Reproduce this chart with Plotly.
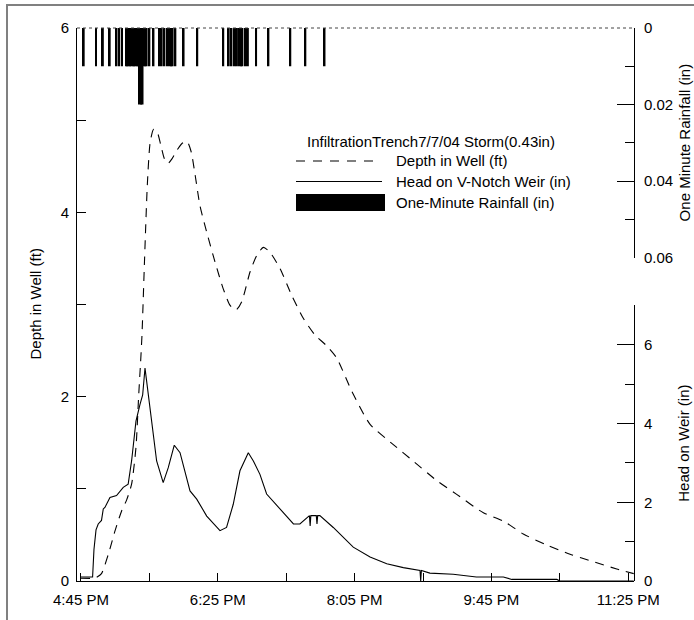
import pandas as pd
import plotly.graph_objects as go

# ---------------- data (times = minutes after 4:45 PM, 7/7/2004) ----------------
BASE = pd.Timestamp("2004-07-07 16:45")

depth_min = [0, 10, 11.5, 15, 20, 25, 29.7, 33.4, 37, 40.2, 42.2, 43.6, 44.6, 46.5, 48.5,
             50.5, 53, 55.5, 58.5, 61, 63.6, 66.5, 70, 74, 77.5, 80.5, 83.5, 87, 92, 98,
             104, 109, 113.3, 117.5, 123.5, 128.4, 133.3, 138, 145.5, 154, 162.5, 171, 179,
             186.9, 197.9, 211.3, 228.3, 242.9, 260, 274.6, 294.1, 308.7, 323.3, 340.4,
             357.5, 374.5, 391.6, 404]
depth_ft = [0.03, 0.03, 0.04, 0.08, 0.29, 0.55, 0.76, 0.88, 1.05, 1.45, 2.02, 2.38, 2.67,
            3.5, 4.3, 4.75, 4.9, 4.88, 4.72, 4.58, 4.53, 4.58, 4.67, 4.75, 4.77, 4.66, 4.4,
            4.07, 3.78, 3.46, 3.17, 2.99, 2.94, 3.03, 3.35, 3.53, 3.62, 3.57, 3.39, 3.10,
            2.85, 2.67, 2.56, 2.42, 2.06, 1.70, 1.48, 1.30, 1.09, 0.94, 0.74, 0.65, 0.51,
            0.39, 0.29, 0.21, 0.13, 0.08]

head_min = [0, 8.5, 9.5, 11, 12.6, 15, 16.3, 17.5, 21.2, 26, 30.9, 34.5, 37, 40.2, 43.1,
            45.1, 46.8, 50.4, 55.3, 60.1, 63.8, 68.2, 72.4, 79.7, 84.6, 91.9, 101.6, 106.4,
            111.3, 116.2, 122.3, 126, 130.8, 135.7, 145.5, 155.3, 160, 165.2, 167, 167.5,
            168, 172, 172.5, 173, 174.6, 184.4, 199, 211.3, 223.5, 235.6, 247.8, 248.3,
            248.8, 255, 272, 289, 308.7, 314.9, 347.8, 350, 404]
head_in = [0.10, 0.10, 0.8, 1.3, 1.45, 1.54, 1.83, 1.87, 2.12, 2.17, 2.38, 2.46, 3.05,
           4.06, 4.48, 4.73, 5.41, 4.40, 3.05, 2.50, 2.88, 3.45, 3.26, 2.29, 2.08, 1.65,
           1.28, 1.36, 1.95, 2.80, 3.26, 3.05, 2.71, 2.21, 1.83, 1.45, 1.45, 1.62, 1.66,
           1.40, 1.66, 1.66, 1.45, 1.66, 1.66, 1.36, 0.86, 0.61, 0.44, 0.34, 0.27, 0.0,
           0.27, 0.20, 0.17, 0.10, 0.10, 0.04, 0.04, 0.0, 0.0]

rain_min = [2, 11, 16, 21, 26, 28, 30, 33, 34, 35, 36, 37, 38, 39, 40, 41, 42, 43, 44, 45,
            46, 47, 48, 50, 53, 57, 59, 61, 63, 65, 66, 67, 69, 75, 85, 104, 108, 110, 112,
            114, 116, 117, 118, 120, 122, 128, 137, 153, 164, 178]
rain_in = [0.01] * len(rain_min)
for _m in (43, 44, 45):
    rain_in[rain_min.index(_m)] = 0.02

x_tick_min = [0, 50, 100, 150, 200, 250, 300, 350, 400]
x_tick_text = ["4:45 PM", "", "6:25 PM", "", "8:05 PM", "", "9:45 PM", "", "11:25 PM"]

depth_ticks = [0, 1, 2, 3, 4, 5, 6]
depth_tick_text = ["0", "", "2", "", "4", "", "6"]

legend_title = "InfiltrationTrench7/7/04 Storm(0.43in)"
name_depth = "Depth in Well (ft)"
name_head = "Head on V-Notch Weir (in)"
name_rain = "One-Minute Rainfall (in)"


def to_time(mins):
    return BASE + pd.to_timedelta(pd.Series(mins, dtype=float), unit="min")


FONT = "Liberation Sans, Arial, sans-serif"
FS = 15

fig = go.Figure()
fig.add_trace(go.Scatter(x=to_time(depth_min), y=depth_ft, mode="lines", name=name_depth,
                         line=dict(color="black", width=1.1, dash="9px,7px", shape="spline",
                                   smoothing=0.6),
                         xaxis="x", yaxis="y", showlegend=False))
fig.add_trace(go.Scatter(x=to_time(head_min), y=head_in, mode="lines", name=name_head,
                         line=dict(color="black", width=1.1),
                         xaxis="x", yaxis="y3", showlegend=False))
fig.add_trace(go.Bar(x=to_time(rain_min), y=rain_in, name=name_rain,
                     marker=dict(color="black", line=dict(width=0)),
                     width=1.4 * 60000, xaxis="x", yaxis="y2", showlegend=False))

x_start = BASE + pd.Timedelta(minutes=-2.9)
x_end = BASE + pd.Timedelta(minutes=404.2)

fig.update_layout(
    width=694, height=620,
    margin=dict(l=77, r=60, t=28, b=36),
    paper_bgcolor="white", plot_bgcolor="rgba(0,0,0,0)",
    font=dict(family=FONT, size=FS, color="black"),
    xaxis=dict(type="date", range=[x_start, x_end], anchor="y",
               tickmode="array", tickvals=to_time(x_tick_min), ticktext=x_tick_text,
               ticks="inside", ticklen=8, tickcolor="black", tickwidth=1,
               showline=True, linecolor="black", linewidth=1,
               showgrid=False, zeroline=False, ticklabelstandoff=5),
    yaxis=dict(range=[0, 6], domain=[0, 1], anchor="x", side="left",
               tickmode="array", tickvals=depth_ticks, ticktext=depth_tick_text,
               ticks="inside", ticklen=9, tickcolor="black",
               showline=True, linecolor="black", linewidth=1,
               showgrid=False, zeroline=False, ticklabelstandoff=4),
    yaxis2=dict(range=[0.06, 0], domain=[(584 - 259) / 556, 1], anchor="x", side="right",
                tickmode="array", tickvals=[0, 0.02, 0.04, 0.06],
                ticktext=["0", "0.02", "0.04", "0.06"],
                ticks="inside", ticklen=17, tickcolor="black",
                minor=dict(tickvals=[0.01, 0.03, 0.05], ticks="inside", ticklen=9,
                           tickcolor="black", showgrid=False),
                showline=True, linecolor="black", linewidth=1,
                showgrid=False, zeroline=False, ticklabelstandoff=6),
    yaxis3=dict(range=[0, 7], domain=[0, (584 - 307) / 556], anchor="x", side="right",
                tickmode="array", tickvals=[0, 2, 4, 6], ticktext=["0", "2", "4", "6"],
                ticks="inside", ticklen=17, tickcolor="black",
                minor=dict(tickvals=[1, 3, 5, 7], ticks="inside", ticklen=9,
                           tickcolor="black", showgrid=False),
                showline=True, linecolor="black", linewidth=1,
                showgrid=False, zeroline=False, ticklabelstandoff=6),
    showlegend=False,
)


def px_x(p):
    return (p - 77) / 557


def px_y(p):
    return (584 - p) / 556


shapes = [
    # outer figure frame
    dict(type="rect", xref="paper", yref="paper", x0=px_x(7), x1=px_x(720),
         y0=px_y(650), y1=px_y(5), line=dict(color="#808080", width=2), layer="below"),
    # top border of plot
    dict(type="line", xref="paper", yref="paper", x0=0, x1=1, y0=1, y1=1,
         line=dict(color="#444", width=1, dash="dot")),
    # legend symbols
    dict(type="line", xref="paper", yref="paper", x0=px_x(296), x1=px_x(381),
         y0=px_y(161.7), y1=px_y(161.7), line=dict(color="black", width=1.1, dash="9px,8px")),
    dict(type="line", xref="paper", yref="paper", x0=px_x(296), x1=px_x(382),
         y0=px_y(182.3), y1=px_y(182.3), line=dict(color="black", width=1.1)),
    dict(type="rect", xref="paper", yref="paper", x0=px_x(296), x1=px_x(385),
         y0=px_y(212), y1=px_y(195), fillcolor="black", line=dict(width=0)),
]

annotations = [
    dict(text=legend_title, x=px_x(306), y=px_y(142), xanchor="left", yanchor="middle"),
    dict(text=name_depth, x=px_x(395), y=px_y(161.7), xanchor="left", yanchor="middle"),
    dict(text=name_head, x=px_x(395), y=px_y(182.3), xanchor="left", yanchor="middle"),
    dict(text=name_rain, x=px_x(395), y=px_y(203.3), xanchor="left", yanchor="middle"),
    dict(text="Depth in Well (ft)", x=px_x(35), y=0.5, textangle=-90,
         xanchor="center", yanchor="middle"),
    dict(text="One Minute Rainfall (in)", x=px_x(684), y=px_y(143), textangle=-90,
         xanchor="center", yanchor="middle"),
    dict(text="Head on Weir (in)", x=px_x(684), y=px_y(446), textangle=-90,
         xanchor="center", yanchor="middle"),
]
for a in annotations:
    a.update(xref="paper", yref="paper", showarrow=False, borderpad=0,
             font=dict(family=FONT, size=FS, color="black"))

fig.update_layout(shapes=shapes, annotations=annotations)
fig.write_html("out.html", config={"displayModeBar": False},
               post_script="document.body.style.margin='0px';")
